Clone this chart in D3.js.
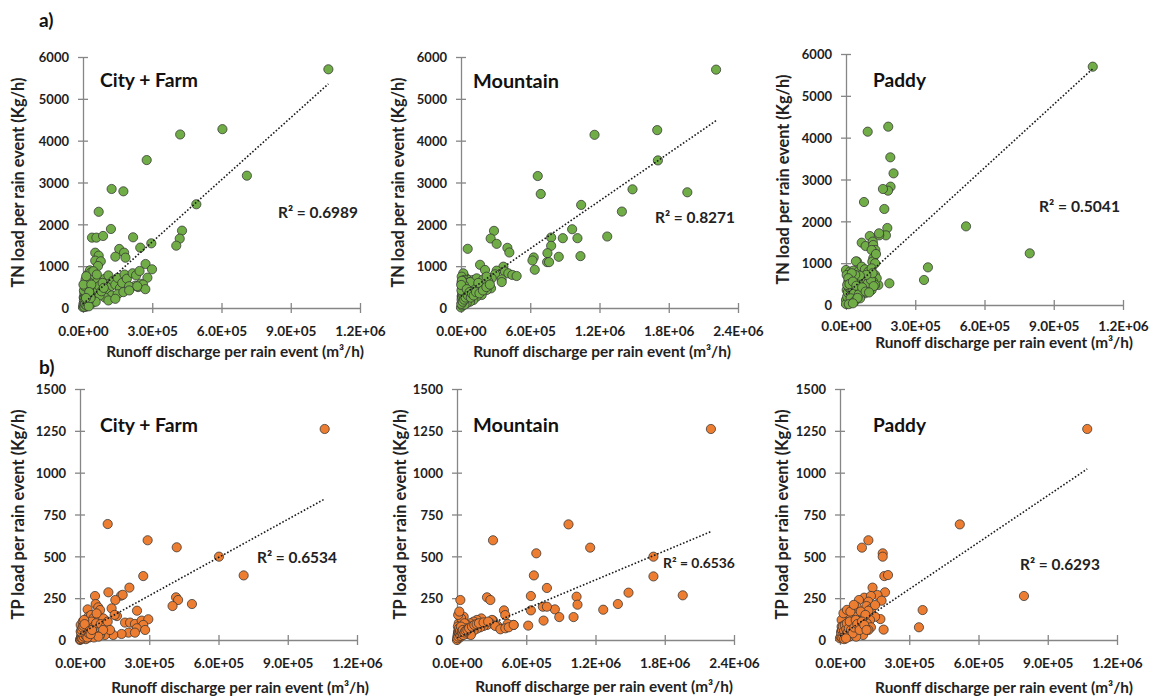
<!DOCTYPE html>
<html>
<head>
<meta charset="utf-8">
<script src="https://cdn.jsdelivr.net/npm/d3@7"></script>
<style>
  html, body { margin: 0; padding: 0; background: #fff; }
  svg { display: block; font-family: Lato, "Open Sans", "DejaVu Sans", sans-serif; }
</style>
</head>
<body>
<svg id="chart" width="1151" height="700"></svg>
<script>
// ---------------- DATA ----------------
// Panel a) TN load (Kg/h) vs runoff discharge (m3/h)
const tnCityFarm = [
  [1063000,5706],[604000,4275],[421000,4148],[276000,3536],[710000,3163],[124000,2845],[175000,2789],
  [68000,2300],[491000,2480],[121000,1889],[429000,1849],[419000,1658],[404000,1490],[296000,1546],
  [217000,1690],[39000,1682],[58000,1682],[87000,1722],[248000,1443],[157000,1411],[178000,1323],
  [184000,1203],[140000,1227],[53000,1323],[68000,1251],[53000,1132],[77000,1116],[65000,1004],
  [271000,1052],[299000,925],[279000,725],[239000,500],[226000,532],[250000,580],
  [95000,700],[105000,600],[110000,780],[120000,520],[130000,650],[140000,560],[150000,720],[160000,470],
  [170000,600],[180000,800],[190000,700],[200000,520],[215000,830],[230000,780],[245000,885],[260000,560],
  [270000,450],[235000,520],[100000,380],[125000,300],[150000,330],[175000,380],[200000,420],[95000,250],
  [110000,180],[140000,220],
  [5000,50],[8000,120],[12000,200],[15000,300],[10000,400],[18000,520],[22000,600],[25000,700],[20000,800],
  [30000,900],[35000,850],[28000,620],[32000,480],[40000,560],[45000,700],[50000,780],[38000,380],[42000,300],
  [48000,420],[55000,500],[60000,620],[52000,250],[58000,350],[65000,430],[70000,520],[72000,300],[80000,400],
  [85000,600],[90000,480],[3000,250],[6000,350],[16000,150],[24000,250],[30000,150],[40000,120],[55000,150],
  [20000,80],[12000,30],[0,20],[45000,880],[60000,800],
  [2000,100],[4000,180],[6000,260],[8000,330],[10000,150],[12000,280],[14000,380],[16000,450],[18000,220],
  [20000,350],[22000,420],[24000,150],[26000,300],[28000,500],[4000,420],[7000,520],[9000,600],[11000,680],
  [2000,560],[14000,760],[3000,60],[6000,30],[9000,90],[15000,60],[19000,120],[25000,40],[33000,240],
  [36000,560],[27000,380],[13000,240]
];
const tnMountain = [
  [2210000,5698],[1700000,4252],[1157000,4140],[1706000,3528],[665000,3155],[691000,2726],[1486000,2837],
  [1961000,2766],[1041000,2464],[1394000,2305],[963000,1883],[1267000,1709],[882000,1669],[1009000,1669],
  [781000,1685],[781000,1486],[749000,1311],[746000,1097],[763000,1097],[847000,1224],[1035000,1240],
  [630000,1208],[619000,1136],[639000,914],[286000,1844],[257000,1661],[309000,1534],[58000,1415],
  [402000,1438],[419000,1327],[165000,1033],[208000,909],[367000,988],[309000,893],[381000,869],[410000,829],
  [445000,789],[482000,765],[295000,805],[352000,685],[353000,620],[20000,795],[43000,715],[64000,675],
  [266000,709],[237000,630],[208000,550],[179000,510],[150000,430],[121000,390],[92000,311],[64000,231],
  [35000,191],[20000,829],[6000,749],[29000,670],[12000,550],[49000,510],[64000,590],[107000,670],
  [136000,709],[193000,685],[222000,749],[260000,470],[222000,430],[179000,311],[136000,271],[107000,191],
  [78000,151],[49000,112],[6000,271],[6000,112],[0,16],
  [10000,400],[15000,350],[25000,450],[30000,300],[40000,400],[5000,600],[15000,650],[45000,350],[70000,480],
  [90000,560],[55000,600],[100000,460],[120000,550],[80000,620],[150000,600],[10000,60],[20000,200],[30000,80],
  [3000,100],[5000,200],[8000,300],[10000,500],[12000,250],[15000,150],[18000,400],[22000,300],[25000,550],
  [28000,200],[32000,450],[36000,350],[4000,420],[7000,650],[2000,550],[40000,250],[50000,450],[60000,300],
  [75000,380],[85000,250],[95000,340],[110000,300],[130000,380],[160000,350],[190000,420],[220000,500],[250000,560]
];
const tnPaddy = [
  [1069000,5697],[183000,4263],[94000,4143],[192000,3530],[206000,3147],[193000,2829],[182000,2733],
  [160000,2773],[78000,2462],[166000,2295],[520000,1880],[179000,1841],[173000,1665],[144000,1665],
  [143000,1713],[103000,1649],[68000,1490],[85000,1410],[796000,1235],[355000,900],[338000,598],
  [188000,518],[140000,478],[48000,1036],
  [116000,1514],[118000,1434],[127000,1315],[111000,1315],[118000,1116],[114000,1036],[126000,996],
  [130000,1219],[43000,1044],
  [0,837],[17000,797],[32000,821],[53000,797],[68000,916],[82000,853],[97000,797],[111000,876],[126000,717],
  [133000,637],[118000,558],[104000,478],[90000,438],[75000,518],[61000,558],[46000,598],[32000,637],
  [17000,677],[3000,717],[10000,558],[25000,478],[39000,398],[53000,359],[68000,319],[82000,279],[97000,398],
  [111000,359],[126000,478],[3000,359],[17000,279],[32000,199],[46000,239],[61000,159],[0,120],[10000,80],
  [25000,120],[0,24],
  [5000,200],[8000,300],[12000,420],[20000,380],[28000,330],[35000,280],[42000,500],[50000,450],[58000,420],
  [65000,600],[72000,680],[80000,560],[88000,600],[95000,520],[102000,680],[108000,600],[115000,760],
  [120000,450],[88000,720],[60000,700],[40000,720],[25000,760],[10000,640],[5000,480],[15000,500],[30000,560],
  [45000,460],[55000,250],[70000,420],[85000,320],[100000,300],[20000,160],[38000,90],[50000,170],[12000,20],
  [30000,40]
];
// Panel b) TP load (Kg/h) vs runoff discharge (m3/h)
const tpCityFarm = [
  [1060000,1261],[120000,693],[293000,596],[419000,554],[602000,498],[709000,386],[274000,382],[214000,313],
  [123000,285],[178000,265],[185000,270],[65000,263],[153000,239],[68000,215],[79000,195],[87000,179],
  [33000,183],[137000,189],[416000,255],[425000,239],[401000,203],[485000,215],[247000,175],[160000,143],
  [150000,150],[36000,139],[48000,149],[58000,129],[79000,129],[101000,129],[72000,159],[195000,104],
  [217000,104],[238000,96],[267000,116],[296000,124],[274000,90],[246000,70],[282000,60],[210000,44],
  [238000,44],[180000,36],[144000,30],[108000,30],[87000,30],[58000,40],[36000,50],[29000,60],
  [0,0],[5000,10],[10000,25],[15000,40],[20000,55],[8000,70],[3000,90],[25000,80],[30000,100],[40000,90],
  [12000,110],[45000,70],[50000,110],[20000,20],[30000,30],[60000,80],[70000,100],[90000,95],[110000,80],
  [120000,110],[130000,60],[100000,60],[18000,120],[6000,45],[40000,15],[60000,15],[80000,20],[25000,5],
  [2000,5],[4000,15],[6000,25],[8000,35],[10000,10],[12000,45],[14000,30],[16000,20],[18000,60],[22000,35],
  [24000,70],[26000,25],[28000,45],[32000,15],[34000,65],[38000,40],[3000,50],[7000,60],[11000,75],
  [15000,85],[20000,95],[42000,55],[46000,35],[52000,60]
];
const tpMountain = [
  [2200000,1261],[966000,691],[312000,596],[1154000,552],[687000,518],[1702000,498],[666000,386],
  [1702000,380],[779000,311],[1486000,283],[1956000,267],[1036000,259],[640000,263],[260000,255],
  [289000,239],[29000,239],[1044000,211],[1394000,215],[1267000,181],[848000,183],[744000,199],[779000,199],
  [640000,177],[407000,177],[418000,149],[750000,116],[886000,137],[1010000,137],[617000,86],[490000,90],
  [58000,139],[312000,116],[375000,70],[439000,96],[346000,88],
  [211000,129],[173000,120],[144000,110],[116000,100],[87000,90],[303000,120],[289000,100],[260000,90],
  [231000,84],[202000,76],[173000,68],[144000,56],[116000,56],[87000,36],[58000,36],[332000,84],[376000,64],
  [419000,70],[448000,76],[491000,90],
  [0,0],[15000,100],[20000,70],[10000,40],[30000,60],[40000,30],[5000,20],[25000,15],[50000,80],[60000,50],
  [70000,60],[45000,110],[35000,130],[10000,150],[20000,170],[65000,100],[80000,70],[100000,40],[120000,30],
  [8000,80],
  [3000,10],[6000,30],[9000,50],[12000,20],[15000,45],[18000,70],[22000,40],[26000,55],[30000,25],[35000,80],
  [40000,50],[45000,40],[50000,60],[55000,30],[65000,45],[75000,55],[90000,60],[105000,70],[130000,80],
  [150000,90],[170000,95],[190000,100],[230000,105],[270000,110]
];
const tpPaddy = [
  [1071000,1261],[519000,691],[123000,596],[95000,552],[185000,518],[185000,498],[192000,382],[208000,388],
  [797000,263],[358000,179],[342000,76],[189000,62],[141000,313],[195000,285],[162000,269],[105000,253],
  [82000,239],[72000,199],[180000,235],[134000,263],[123000,229],[115000,203],[137000,189],[123000,175],
  [152000,209],[175000,125],[152000,139],[130000,120],[116000,100],[101000,139],[79000,120],[65000,139],
  [51000,120],[36000,130],[22000,110],[7000,120],[134000,76],[123000,60],[94000,70],[65000,60],[43000,50],
  [29000,40],[0,10],[7000,80],[22000,60],[36000,80],[50000,30],[60000,90],[80000,40],[100000,30],
  [15000,160],[30000,180],[45000,170],[60000,210],[90000,170],[110000,150],[12000,30],[5000,50],[20000,15],
  [40000,20],[55000,100],[70000,20],
  [3000,20],[6000,40],[9000,60],[12000,80],[15000,35],[18000,55],[21000,90],[24000,25],[27000,65],[30000,100],
  [33000,45],[38000,70],[42000,110],[48000,60],[55000,40],[62000,75],[68000,120],[75000,95],[85000,60],
  [95000,110],[105000,90],[115000,60],[10000,10],[18000,5],[26000,10]
];

// Linear trendlines [slope, intercept] and R² labels
const trendCoef = {
  tnCityFarm: [4.95e-3, 95], tnMountain: [1.9e-3, 280], tnPaddy: [5.05e-3, 250],
  tpCityFarm: [7.6e-4, 37], tpMountain: [2.885e-4, 13], tpPaddy: [9.32e-4, 24]
};
const r2Labels = {
  tnCityFarm: "R² = 0.6989", tnMountain: "R² = 0.8271", tnPaddy: "R² = 0.5041",
  tpCityFarm: "R² = 0.6534", tpMountain: "R² = 0.6536", tpPaddy: "R² = 0.6293"
};
const panelTitles = ["City + Farm", "Mountain", "Paddy"];
const xTicksSmall = [0, 3e5, 6e5, 9e5, 1.2e6];
const xTicksLarge = [0, 6e5, 1.2e6, 1.8e6, 2.4e6];
const yTicksTN = [0, 1000, 2000, 3000, 4000, 5000, 6000];
const yTicksTP = [0, 250, 500, 750, 1000, 1250, 1500];
const yTitleTN = "TN load per rain event (Kg/h)";
const yTitleTP = "TP load per rain event (Kg/h)";
const xTitle = "Runoff discharge per rain event (m³/h)";
const xTitleTypo = "Ruonff discharge per rain event (m³/h)";
const rowLabels = ["a)", "b)"];

// ---------------- LAYOUT ----------------
const GREEN = "#70ad47", ORANGE = "#ed7d31";
const panels = [
  {key:"tnCityFarm", data:tnCityFarm, xt:xTicksSmall, yt:yTicksTN, fill:GREEN, title:panelTitles[0], yTitle:yTitleTN, xTitle:xTitle,
   x0:83, x1:360, yT:57, yB:308, tlY:28, tX:100, tY:87, tW:98, rX:278, rY:218, rW:80, ytX:24, xtX:235, xtY:357},
  {key:"tnMountain", data:tnMountain, xt:xTicksLarge, yt:yTicksTN, fill:GREEN, title:panelTitles[1], yTitle:yTitleTN, xTitle:xTitle,
   x0:461, x1:738, yT:57, yB:308, tlY:28, tX:473, tY:88, tW:86, rX:655, rY:223, rW:80, ytX:404, xtX:602, xtY:357},
  {key:"tnPaddy", data:tnPaddy, xt:xTicksSmall, yt:yTicksTN, fill:GREEN, title:panelTitles[2], yTitle:yTitleTN, xTitle:xTitle,
   x0:846, x1:1123, yT:54, yB:305, tlY:26, tX:873, tY:87, tW:53, rX:1039, rY:212, rW:81, ytX:789, xtX:1004, xtY:348},
  {key:"tpCityFarm", data:tpCityFarm, xt:xTicksSmall, yt:yTicksTP, fill:ORANGE, title:panelTitles[0], yTitle:yTitleTP, xTitle:xTitle,
   x0:80, x1:357, yT:389, yB:640, tlY:28, tX:100, tY:432, tW:98, rX:257, rY:563, rW:80, ytX:24, xtX:240, xtY:693},
  {key:"tpMountain", data:tpMountain, xt:xTicksLarge, yt:yTicksTP, fill:ORANGE, title:panelTitles[1], yTitle:yTitleTP, xTitle:xTitle,
   x0:457, x1:734, yT:389, yB:640, tlY:28, tX:473, tY:432, tW:86, rX:663, rY:568, rW:72, ytX:406, xtX:604, xtY:692},
  {key:"tpPaddy", data:tpPaddy, xt:xTicksSmall, yt:yTicksTP, fill:ORANGE, title:panelTitles[2], yTitle:yTitleTP, xTitle:xTitleTypo,
   x0:840, x1:1117, yT:389, yB:640, tlY:28, tX:873, tY:432, tW:53, rX:1020, rY:570, rW:80, ytX:788, xtX:1004, xtY:693}
];

const svg = d3.select("#chart");
const AXIS = "#868686", TXT = "#1e1e1e";

function sci(v) {
  if (v === 0) return "0.0E+00";
  const e = Math.floor(Math.log10(v) + 1e-9);
  const m = v / Math.pow(10, e);
  return m.toFixed(1) + "E+" + String(e).padStart(2, "0");
}
// scale a text's font size so that its rendered width matches the reference width
function fit(sel, target) {
  const w = sel.node().getComputedTextLength();
  if (w > 0) sel.attr("font-size", (+sel.attr("font-size")) * target / w);
  return sel;
}

panels.forEach(p => {
  const xs = d3.scaleLinear().domain([p.xt[0], p.xt[p.xt.length - 1]]).range([p.x0, p.x1]);
  const ys = d3.scaleLinear().domain([p.yt[0], p.yt[p.yt.length - 1]]).range([p.yB, p.yT]);
  const g = svg.append("g");

  // axes with crossing tick marks
  const xAxis = d3.axisBottom(xs).tickValues(p.xt).tickSize(0).tickFormat("");
  const gx = g.append("g").attr("transform", `translate(0,${p.yB})`).call(xAxis).attr("font-family", null);
  gx.select(".domain").attr("stroke", AXIS).attr("stroke-width", 1.3);
  gx.selectAll(".tick").append("line").attr("y1", -5).attr("y2", 5).attr("stroke", AXIS).attr("stroke-width", 1.3);
  gx.selectAll(".tick").append("text").attr("y", p.tlY).attr("text-anchor", "middle")
    .attr("fill", TXT).attr("font-size", 13.6).attr("font-weight", 700).text(d => sci(d));

  const yAxis = d3.axisLeft(ys).tickValues(p.yt).tickSize(0).tickFormat("");
  const gy = g.append("g").attr("transform", `translate(${p.x0},0)`).call(yAxis).attr("font-family", null);
  gy.select(".domain").attr("stroke", AXIS).attr("stroke-width", 1.3);
  gy.selectAll(".tick").append("line").attr("x1", -5).attr("x2", 5).attr("stroke", AXIS).attr("stroke-width", 1.3);
  gy.selectAll(".tick").append("text").attr("x", -14).attr("dy", "0.36em").attr("text-anchor", "end")
    .attr("fill", TXT).attr("font-size", 13).attr("font-weight", 700).text(d => String(d));

  // points
  g.append("g").selectAll("circle").data(p.data).join("circle")
    .attr("cx", d => xs(d[0])).attr("cy", d => ys(d[1])).attr("r", 4.6)
    .attr("fill", p.fill).attr("stroke", "#333").attr("stroke-width", 0.75);

  // trendline over x-range of data
  const [m, b] = trendCoef[p.key];
  const xr = d3.extent(p.data, d => d[0]);
  const line = d3.line().x(d => xs(d)).y(d => ys(m * d + b));
  g.append("path").datum(xr).attr("d", line).attr("fill", "none")
    .attr("stroke", "#1a1a1a").attr("stroke-width", 1.6).attr("stroke-dasharray", "1.6,1.9");

  // labels
  fit(g.append("text").attr("x", p.tX).attr("y", p.tY).attr("font-size", 17).attr("font-weight", 700)
    .attr("fill", "#111").text(p.title), p.tW);
  fit(g.append("text").attr("x", p.rX).attr("y", p.rY).attr("font-size", 14).attr("font-weight", 700)
    .attr("fill", "#222").text(r2Labels[p.key]), p.rW);
  fit(g.append("text").attr("transform", `translate(${p.ytX},${(p.yT + p.yB) / 2}) rotate(-90)`)
    .attr("text-anchor", "middle").attr("font-size", 13).attr("font-weight", 700).attr("fill", "#222").text(p.yTitle), 210);
  fit(g.append("text").attr("x", p.xtX).attr("y", p.xtY).attr("text-anchor", "middle")
    .attr("font-size", 13).attr("font-weight", 700).attr("fill", "#222").text(p.xTitle), 258);
});

svg.append("text").attr("x", 39).attr("y", 27).attr("font-size", 19).attr("font-weight", 700).attr("fill", "#111").text(rowLabels[0]);
svg.append("text").attr("x", 39).attr("y", 374).attr("font-size", 19).attr("font-weight", 700).attr("fill", "#111").text(rowLabels[1]);
</script>
</body>
</html>
